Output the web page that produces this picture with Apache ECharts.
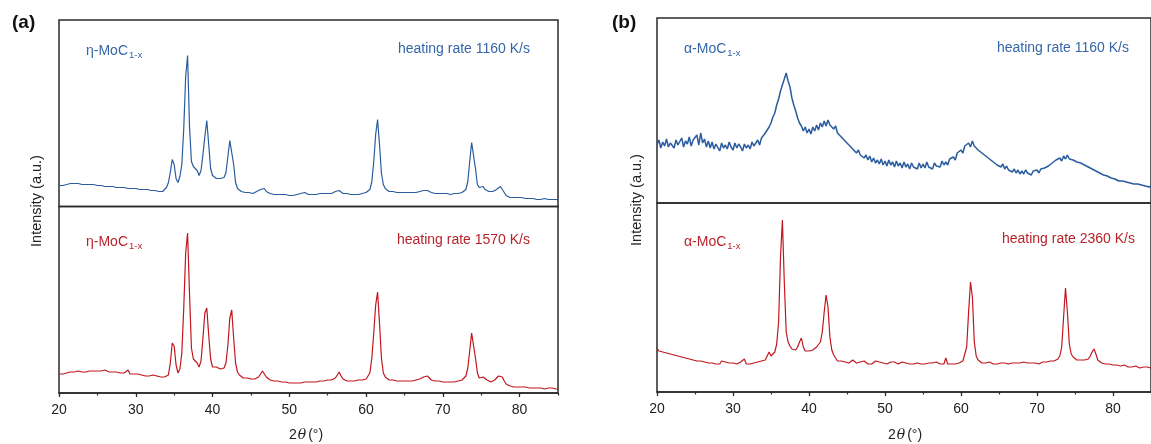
<!DOCTYPE html>
<html>
<head>
<meta charset="utf-8">
<script src="https://cdn.jsdelivr.net/npm/echarts@6/dist/echarts.min.js"></script>
<style>html,body{margin:0;padding:0;background:#fff;}#c{width:1151px;height:444px;}</style>
</head>
<body>
<div id="c"></div>
<script>
// 2θ sampling grid: 20° to 85° in 0.25° steps (261 points)
const twoTheta = [];
for (let i = 0; i <= 260; i++) twoTheta.push(20 + i * 0.25);

const xTicks = [20, 30, 40, 50, 60, 70, 80];

// (a) η-MoC1-x, heating rate 1160 K/s (blue)
const etaRate1160 = [
21,22,21,22, 22,21,23,22, 23,22,23,22, 22,23,22,21, 22,21,22,21,
21,20,21,20, 20,21,20,19, 20,19,19,20, 19,18,19,18, 18,19,18,17,
18,17,17,18, 17,16,17,16, 16,17,16,15, 15,16,15,17, 19,24,34,47,
42,28,24,30, 42,78,130,151, 80,45,40,38, 36,31,36,52, 70,86,62,38,
31,29,28,29, 28,27,29,34, 50,66,68,42, 24,18,16,15, 15,14,15,14,
14,13,14,15, 15,17,19,18, 15,13,13,12, 12,13,12,11, 12,11,12,12,
11,12,11,12, 12,12,13,14, 14,13,12,12, 12,11,12,12, 13,12,13,13,
13,14,13,14, 15,17,16,14, 13,12,13,12, 12,13,12,13, 12,13,13,14,
14,15,17,25, 45,72,87,62, 33,22,18,16, 15,14,15,14, 14,13,14,14,
14,13,14,15, 14,15,14,15, 15,15,16,15, 16,15,14,14, 13,14,13,13,
13,12,13,13, 12,13,13,13, 13,14,14,15, 17,25,45,64, 62,38,22,19,
20,20,17,16, 15,14,15,16, 17,19,20,18, 14,11,10,9, 9,9,8,9,
8,9,8,8, 8,8,7,8, 8,7,8,7, 7,8,7,7, 7,7,6,7,
7];

// (a) η-MoC1-x, heating rate 1570 K/s (red)
const etaRate1570 = [
19,20,19,21, 20,19,21,20, 21,20,22,21, 21,22,21,22, 22,21,22,21,
22,23,22,21, 23,22,21,22, 21,20,21,20, 20,19,20,19, 23,19,18,19,
18,19,18,18, 18,17,18,17, 17,18,17,17, 17,16,17,16, 15,18,30,50,
47,28,20,24, 40,85,140,160, 100,45,34,32, 30,26,32,55, 80,85,58,34,
26,25,26,25, 24,23,25,30, 48,75,83,55, 30,21,18,16, 15,14,15,14,
14,13,14,15, 16,18,22,20, 16,14,13,12, 12,11,12,11, 11,10,11,10,
10,11,10,10, 10,11,10,11, 11,10,11,11, 11,12,11,12, 12,11,12,13,
13,12,13,14, 15,18,21,17, 14,13,12,13, 12,13,12,12, 13,12,13,14,
14,16,20,35, 60,88,101,70, 35,20,16,14, 13,12,13,12, 12,11,12,12,
12,11,12,13, 12,13,13,14, 14,15,16,17, 17,15,13,12, 12,11,12,11,
11,12,11,11, 11,12,11,12, 12,13,13,14, 17,25,42,60, 58,35,20,15,
14,16,17,13, 12,11,12,13, 15,17,19,16, 12,9,8,7, 7,6,7,6,
6,6,5,6, 6,5,6,5, 5,5,6,5, 5,4,5,5, 4,5,4,4,
4];

// (b) α-MoC1-x, heating rate 1160 K/s (blue)
const alphaRate1160 = [
58,63,55,61, 57,64,56,60, 62,55,63,58, 60,65,56,62, 59,66,57,63,
61,68,58,70, 60,64,56,62, 55,61,54,59, 57,52,60,55, 58,54,61,56,
53,60,55,59, 56,52,59,55, 58,54,61,57, 59,63,58,65, 64,70,68,76,
80,86,90,98, 104,112,118,124, 130,122,116,105, 98,92,85,80, 77,72,76,70,
74,69,76,72, 78,73,80,76, 82,77,83,78, 80,74,77,70, 72,66,68,62,
63,58,60,54, 55,50,53,48, 50,45,48,43, 47,41,45,40, 43,39,44,38,
42,37,43,38, 41,36,42,37, 40,35,41,36, 39,34,40,36, 38,34,40,35,
39,35,41,36, 38,34,40,37, 39,36,42,38, 41,38,44,42, 46,43,50,48,
53,50,57,55, 60,56,62,57, 58,53,55,50, 52,47,49,44, 45,41,43,38,
40,36,39,34, 37,33,35,31, 34,30,33,29, 32,29,33,30, 31,28,32,30,
33,30,34,32, 35,33,37,36, 40,38,43,42, 45,42,47,44, 48,44,46,43,
45,41,43,40, 42,38,40,36, 37,34,36,32, 33,30,31,28, 29,27,28,25,
26,24,25,22, 24,22,23,21, 22,20,21,19, 21,19,20,18, 19,17,18,16,
17];

// (b) α-MoC1-x, heating rate 2360 K/s (red)
const alphaRate2360 = [
44,41,43,40, 42,39,41,38, 40,37,39,36, 38,35,37,34, 36,33,35,32,
34,31,33,31, 32,30,31,29, 31,29,30,28, 30,28,31,29, 30,28,29,28,
29,30,28,29, 30,28,33,28, 29,28,30,29, 28,30,29,31, 30,32,34,40,
36,38,40,48, 70,135,172,110, 60,50,46,43, 44,42,45,50, 54,45,41,40,
41,43,42,44, 45,47,50,60, 80,97,85,55, 42,37,34,31, 30,31,29,30,
31,29,30,32, 30,29,31,30, 29,31,30,28, 30,28,29,31, 29,30,28,29,
30,28,29,30, 28,30,29,28, 29,30,28,29, 30,28,29,28, 28,29,30,28,
29,28,30,29, 28,29,28,30, 29,28,29,28, 34,28,29,28, 29,28,30,29,
30,31,33,45, 80,110,95,50, 36,32,30,29, 28,29,28,30, 29,28,29,28,
28,29,28,29, 29,28,30,29, 28,29,28,29, 29,30,28,29, 28,29,30,29,
29,28,29,30, 29,30,29,31, 30,31,32,33, 36,45,75,104, 80,48,38,35,
33,32,31,32, 31,32,31,33, 36,40,43,38, 32,30,29,28, 28,27,28,26,
27,26,27,25, 26,25,27,26, 25,26,25,26, 26,25,24,25, 25,24,25,24,
24];

const BLUE = '#2B5C9E';
const RED = '#C0161E';
const BLUE_TXT = '#3566A8';
const RED_TXT = '#B8232B';
const FONT = '"Liberation Sans", Arial, sans-serif';
const pairs = v => twoTheta.map((t, i) => [t, v[i]]);

const grids = [
  {left: 59, right: 593, top: 20, height: 186.5},
  {left: 59, right: 593, top: 206.5, height: 186.5},
  {left: 657, right: -5, top: 18, height: 185},
  {left: 657, right: -5, top: 203, height: 189}
].map(g => Object.assign({show: true, borderColor: '#2a2a2a', borderWidth: 1.5, backgroundColor: 'transparent'}, g));

function xAxisTop(gi) {
  return {type: 'value', gridIndex: gi, min: 20, max: 85, interval: 10,
    axisLine: {show: false}, axisTick: {show: false}, axisLabel: {show: false}, splitLine: {show: false}};
}
function xAxisBottom(gi) {
  return {type: 'value', gridIndex: gi, min: 20, max: 85, interval: 10, position: 'bottom',
    axisLine: {show: true, lineStyle: {color: '#2a2a2a', width: 1.5}},
    axisTick: {show: true, inside: false, length: 4, lineStyle: {color: '#2a2a2a', width: 1.2}},
    axisLabel: {show: true, margin: 10, fontSize: 14, color: '#222', fontFamily: FONT,
      showMaxLabel: false, formatter: v => (xTicks.indexOf(v) >= 0 ? String(v) : '')},
    splitLine: {show: false}};
}
function xAxisMinor(gi) {
  return {type: 'value', gridIndex: gi, min: 20, max: 85, interval: 5, position: 'bottom',
    axisLine: {show: false},
    axisTick: {show: true, inside: false, length: 2.5, lineStyle: {color: '#2a2a2a', width: 1.2}},
    axisLabel: {show: false}, splitLine: {show: false}};
}
const yAxes = grids.map((g, i) => ({type: 'value', gridIndex: i, min: 0, max: g.height, show: false}));

function line(name, data, xi, yi, color, w) {
  return {name, type: 'line', xAxisIndex: xi, yAxisIndex: yi, data: pairs(data),
    showSymbol: false, symbol: 'none', clip: true,
    lineStyle: {color, width: w}, itemStyle: {color}, animation: false};
}

const richLbl = (color) => ({
  m: {fontSize: 14, fontFamily: FONT, fill: color, color: color, lineHeight: 18},
  s: {fontSize: 9.5, fontFamily: FONT, fill: color, color: color, lineHeight: 18, verticalAlign: 'bottom', padding: [0, 0, 0, 1]}
});

function phaseText(x, y, phase, color) {
  return {type: 'text', x, y, style: {text: '{m|' + phase + '}{s|1-x}', rich: richLbl(color),
    textAlign: 'left', textVerticalAlign: 'middle'}};
}
function rateText(x, y, txt, color) {
  return {type: 'text', x, y, style: {text: txt, font: '14px ' + FONT, fill: color,
    textAlign: 'right', textVerticalAlign: 'middle'}};
}
function yTitle(x, y) {
  return {type: 'text', x, y, rotation: Math.PI / 2, style: {text: 'Intensity (a.u.)', font: '14.5px ' + FONT,
    fill: '#222', textAlign: 'center', textVerticalAlign: 'middle'}};
}
function xTitle(x, y) {
  return {type: 'text', x, y, style: {text: '{n|2}{i|θ}{n|(°)}', textAlign: 'center', textVerticalAlign: 'middle',
    rich: {n: {fontSize: 14, fontFamily: FONT, fill: '#222'},
           i: {fontSize: 14, fontFamily: '"DejaVu Serif", serif', fontStyle: 'italic', fill: '#222', padding: [0, 2, 0, 1]}}}};
}

const option = {
  animation: false,
  backgroundColor: '#fff',
  grid: grids,
  xAxis: [xAxisTop(0), xAxisBottom(1), xAxisTop(2), xAxisBottom(3), xAxisMinor(1), xAxisMinor(3)],
  yAxis: yAxes,
  series: [
    line('η-MoC1-x 1160 K/s', etaRate1160, 0, 0, BLUE, 1.2),
    line('η-MoC1-x 1570 K/s', etaRate1570, 1, 1, RED, 1.2),
    line('α-MoC1-x 1160 K/s', alphaRate1160, 2, 2, BLUE, 1.5),
    line('α-MoC1-x 2360 K/s', alphaRate2360, 3, 3, RED, 1.2)
  ],
  graphic: [
    {type: 'text', x: 12, y: 23, style: {text: '(a)', font: 'bold 19px ' + FONT, fill: '#111', textAlign: 'left', textVerticalAlign: 'middle'}},
    {type: 'text', x: 612, y: 23, style: {text: '(b)', font: 'bold 19px ' + FONT, fill: '#111', textAlign: 'left', textVerticalAlign: 'middle'}},
    phaseText(86, 51, 'η-MoC', BLUE_TXT),
    rateText(530, 49, 'heating rate 1160 K/s', BLUE_TXT),
    phaseText(86, 242, 'η-MoC', RED_TXT),
    rateText(530, 240, 'heating rate 1570 K/s', RED_TXT),
    phaseText(684, 49, 'α-MoC', BLUE_TXT),
    rateText(1129, 48, 'heating rate 1160 K/s', BLUE_TXT),
    phaseText(684, 242, 'α-MoC', RED_TXT),
    rateText(1135, 239, 'heating rate 2360 K/s', RED_TXT),
    yTitle(37, 201),
    yTitle(637, 200),
    xTitle(306, 435),
    xTitle(905, 435)
  ]
};

const chart = echarts.init(document.getElementById('c'), null, {renderer: 'canvas'});
chart.setOption(option);
</script>
</body>
</html>
